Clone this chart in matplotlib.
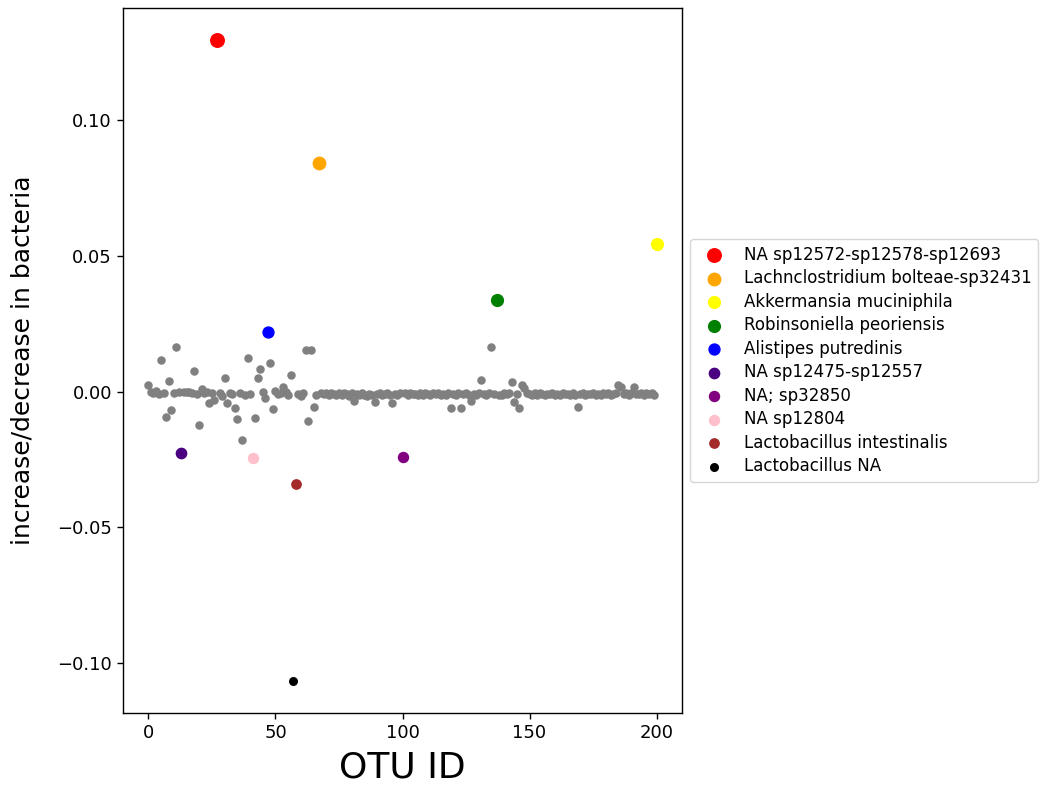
import matplotlib
matplotlib.use('Agg')
import matplotlib.pyplot as plt
from matplotlib.ticker import MultipleLocator
import numpy as np

# change per OTU, highlighted OTUs left out of the grey series (nan)
nan = np.nan
grey_y = [
    0.0025, 0.0, -0.0005, 0.0003, -0.0008, 0.0118, -0.0005, -0.0093, 0.004, -0.0067,
    -0.0005, 0.0163, -0.0003, nan, 0.0, -0.0002, 0.0, -0.0005, 0.0077, -0.0008,
    -0.0122, 0.0008, -0.0004, 0.0, -0.0044, -0.0007, -0.003, nan, -0.0006, -0.0015,
    0.0049, -0.0044, -0.0005, -0.001, -0.0062, -0.0100, -0.0005, -0.018, -0.0012, 0.0122,
    -0.001, nan, -0.0096, 0.0049, 0.0082, -0.0003, -0.0025, nan, 0.0104, -0.0064,
    0.0003, -0.0008, -0.0005, 0.0018, -0.0002, -0.0012, 0.0062, nan, nan, -0.0008,
    -0.0015, -0.0005, 0.0152, -0.0107, 0.0152, -0.0057, -0.0012, nan, -0.0004, -0.0008,
    -0.0006, -0.0012, -0.0005, -0.0009, -0.0011, -0.0006, -0.0013, -0.0004, -0.0010, -0.0015,
    -0.0007, -0.0033, -0.0009, -0.0012, -0.0005, -0.0011, -0.0018, -0.0008, -0.0013, -0.004,
    -0.0009, -0.0006, -0.0014, -0.0010, -0.0005, -0.0012, -0.0044, -0.0008, -0.0011, -0.0006,
    nan, -0.0007, -0.0012, -0.0005, -0.0010, -0.0008, -0.0013, -0.0006, -0.0011, -0.0004,
    -0.0009, -0.0012, -0.0007, -0.0010, -0.0005, -0.0013, -0.0008, -0.0011, -0.0006, -0.0062,
    -0.0009, -0.0012, -0.0007, -0.0062, -0.0010, -0.0005, -0.0013, -0.0033, -0.0008, -0.0011,
    -0.0006, 0.0044, -0.0010, -0.0012, -0.0007, 0.0163, -0.0009, nan, -0.0011, -0.0014,
    -0.0006, -0.0010, -0.0004, 0.0034, -0.0037, -0.0008, -0.0062, 0.0026, 0.0012, -0.0006,
    -0.0010, -0.0013, -0.0007, -0.0011, -0.0005, -0.0009, -0.0012, -0.0008, -0.0010, -0.0006,
    -0.0013, -0.0009, -0.0011, -0.0005, -0.0010, -0.0008, -0.0012, -0.0007, -0.0011, -0.0056,
    -0.0009, -0.0006, -0.0012, -0.0008, -0.0010, -0.0005, -0.0011, -0.0009, -0.0013, -0.0007,
    -0.0010, -0.0006, -0.0012, -0.0008, -0.0004, 0.0025, 0.0018, -0.0009, -0.0006, -0.0011,
    -0.0005, 0.0018, -0.0008, -0.0010, -0.0006, -0.0012, -0.0007, -0.0009, -0.0005, -0.0012,
    nan,
]
grey_x = np.arange(len(grey_y))

labels = ['NA sp12572-sp12578-sp12693', 'Lachnclostridium bolteae-sp32431',
          'Akkermansia muciniphila', 'Robinsoniella peoriensis',
          'Alistipes putredinis', 'NA sp12475-sp12557', 'NA; sp32850',
          'NA sp12804', 'Lactobacillus intestinalis', 'Lactobacillus NA']
hl_x = [27, 67, 200, 137, 47, 13, 100, 41, 58, 57]
hl_y = [0.1296, 0.0844, 0.0544, 0.0337, 0.0219, -0.0226, -0.0241, -0.0244, -0.0341, -0.1067]
colors = ['red', 'orange', 'yellow', 'green', 'blue', 'indigo', 'purple', 'pink', 'brown', 'black']
sizes = [95, 80, 72, 72, 62, 55, 52, 52, 45, 30]

fig = plt.figure(figsize=(10.5, 7.87), dpi=100)
ax = fig.add_axes([123/1050, 1-713/787, (682-123)/1050, (713-8)/787])

ax.scatter(grey_x, grey_y, s=26, color='grey')
for x, y, c, s, lab in zip(hl_x, hl_y, colors, sizes, labels):
    ax.scatter(x, y, s=s, color=c, label=lab)

ax.xaxis.set_major_locator(MultipleLocator(50))
ax.set_xlabel('OTU ID', fontsize=26, labelpad=6)
ax.set_ylabel('increase/decrease in bacteria', fontsize=18, labelpad=16)
ax.tick_params(labelsize=13, length=4.5, width=1.0)
for sp in ax.spines.values():
    sp.set_linewidth(1.0)

ax.legend(loc='center left', bbox_to_anchor=(1, 0.5), fontsize=12, labelspacing=0.33)

fig.savefig('out.png', dpi=100)
